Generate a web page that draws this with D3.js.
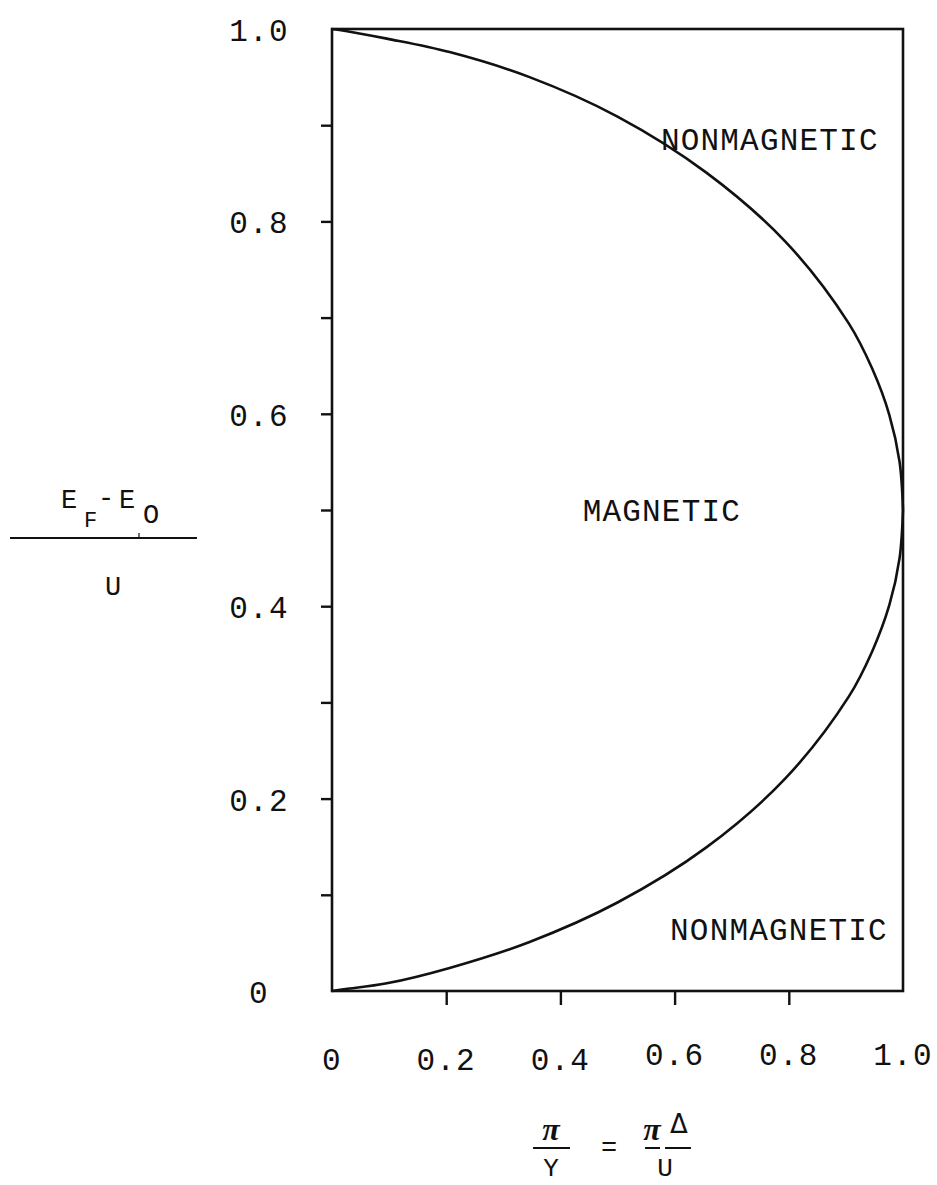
<!DOCTYPE html>
<html>
<head>
<meta charset="utf-8">
<script src="https://cdn.jsdelivr.net/npm/d3@7/dist/d3.min.js"></script>
<style>
  html, body { margin: 0; padding: 0; background: #fff; }
  svg { display: block; }
  .tw { font-family: "Liberation Mono", "DejaVu Sans Mono", monospace; fill: #111; }
</style>
</head>
<body>
<svg id="chart" width="937" height="1185"></svg>
<script>
// Phase boundary between the magnetic and nonmagnetic regions
const xTickValues = [0, 0.2, 0.4, 0.6, 0.8, 1.0];
const xTickLabels = ["0", "0.2", "0.4", "0.6", "0.8", "1.0"];
const yTickValues = [0, 0.2, 0.4, 0.6, 0.8, 1.0];
const yTickLabels = ["0", "0.2", "0.4", "0.6", "0.8", "1.0"];
const yMinorTicks = [0.1, 0.2, 0.3, 0.4, 0.5, 0.6, 0.7, 0.8, 0.9];
const xMinorTicks = [0.2, 0.4, 0.6, 0.8];

// lower branch: (πΔ/U, (E_F - E_0)/U)
const lowerX = [0, 0.024, 0.096, 0.206, 0.346, 0.500, 0.655, 0.794, 0.905, 0.946, 0.976, 0.994, 1.0];
const lowerY = [0, 0.002, 0.008, 0.024, 0.051, 0.092, 0.149, 0.221, 0.306, 0.353, 0.401, 0.450, 0.5];
// upper branch
const upperX = [0, 0.024, 0.096, 0.206, 0.346, 0.500, 0.655, 0.794, 0.905, 0.946, 0.976, 0.994, 1.0];
const upperY = [1.0, 0.998, 0.990, 0.976, 0.950, 0.909, 0.851, 0.779, 0.694, 0.647, 0.599, 0.550, 0.5];

const regionLabels = [
  { text: "NONMAGNETIC", x: 0.576, y: 0.884 },
  { text: "MAGNETIC", x: 0.439, y: 0.498 },
  { text: "NONMAGNETIC", x: 0.592, y: 0.062 }
];

const svg = d3.select("#chart");
const plotLeft = 332, plotRight = 903, plotTop = 29, plotBottom = 991;
const x = d3.scaleLinear().domain([0, 1]).range([plotLeft, plotRight]);
const y = d3.scaleLinear().domain([0, 1]).range([plotBottom, plotTop]);

const FS = 31, LS = 1.2;

// frame
svg.append("rect")
  .attr("x", x(0)).attr("y", y(1))
  .attr("width", x(1) - x(0)).attr("height", y(0) - y(1))
  .attr("fill", "none").attr("stroke", "#111").attr("stroke-width", 2.6);

// y ticks (outside, left)
svg.append("g").attr("transform", `translate(${plotLeft},0)`)
  .call(d3.axisLeft(y).tickValues(yMinorTicks).tickSize(11).tickFormat(""))
  .call(g => g.select(".domain").remove())
  .call(g => g.selectAll("line").attr("stroke", "#111").attr("stroke-width", 2.4));

// x ticks (outside, below)
svg.append("g").attr("transform", `translate(0,${plotBottom})`)
  .call(d3.axisBottom(x).tickValues(xMinorTicks).tickSize(14).tickFormat(""))
  .call(g => g.select(".domain").remove())
  .call(g => g.selectAll("line").attr("stroke", "#111").attr("stroke-width", 2.4));

// y tick labels
svg.append("g").selectAll("text").data(yTickValues).join("text")
  .attr("class", "tw")
  .attr("x", 259)
  .attr("y", d => y(d) + 12)
  .attr("text-anchor", "middle")
  .attr("font-size", FS).attr("letter-spacing", LS)
  .text((d, i) => yTickLabels[i]);

// x tick labels (typewriter baseline drifts slightly)
svg.append("g").selectAll("text").data(xTickValues).join("text")
  .attr("class", "tw")
  .attr("x", d => x(d))
  .attr("y", (d, i) => i < 3 ? 1070 : 1065)
  .attr("text-anchor", "middle")
  .attr("font-size", FS).attr("letter-spacing", LS)
  .text((d, i) => xTickLabels[i]);

// boundary curves
const line = d3.line().x(d => x(d[0])).y(d => y(d[1])).curve(d3.curveCatmullRom.alpha(0.5));
svg.append("path")
  .datum(lowerX.map((v, i) => [v, lowerY[i]]))
  .attr("d", line).attr("fill", "none").attr("stroke", "#111").attr("stroke-width", 2.6);
svg.append("path")
  .datum(upperX.map((v, i) => [v, upperY[i]]))
  .attr("d", line).attr("fill", "none").attr("stroke", "#111").attr("stroke-width", 2.6);

// region labels
svg.append("g").selectAll("text").data(regionLabels).join("text")
  .attr("class", "tw")
  .attr("x", d => x(d.x))
  .attr("y", d => y(d.y) + 9)
  .attr("font-size", FS).attr("letter-spacing", LS)
  .text(d => d.text);

// y axis title: (E_F - E_O) / U
const yt = svg.append("g");
yt.append("text").attr("class", "tw").attr("x", 61).attr("y", 508).attr("font-size", 27).text("E");
yt.append("text").attr("class", "tw").attr("x", 84).attr("y", 527).attr("font-size", 22).text("F");
yt.append("text").attr("class", "tw").attr("x", 98).attr("y", 506).attr("font-size", 27).text("-");
yt.append("text").attr("class", "tw").attr("x", 119).attr("y", 508).attr("font-size", 27).text("E");
yt.append("text").attr("class", "tw").attr("x", 143).attr("y", 523).attr("font-size", 27).text("O");
yt.append("line").attr("x1", 10).attr("x2", 197).attr("y1", 538).attr("y2", 538)
  .attr("stroke", "#111").attr("stroke-width", 2.2);
yt.append("line").attr("x1", 139).attr("x2", 139).attr("y1", 533).attr("y2", 538)
  .attr("stroke", "#111").attr("stroke-width", 1.2);
yt.append("text").attr("class", "tw").attr("x", 113).attr("y", 595).attr("font-size", 27)
  .attr("text-anchor", "middle").text("U");

// x axis title: π / Y = πΔ / U
const xt = svg.append("g");
xt.append("text").attr("x", 551).attr("y", 1140).attr("text-anchor", "middle")
  .attr("font-family", "Liberation Serif").attr("font-weight", "bold").attr("font-style", "italic")
  .attr("font-size", 32).attr("fill", "#111").text("π");
xt.append("line").attr("x1", 533).attr("x2", 570).attr("y1", 1148).attr("y2", 1148)
  .attr("stroke", "#111").attr("stroke-width", 2);
xt.append("text").attr("class", "tw").attr("x", 551).attr("y", 1176).attr("text-anchor", "middle")
  .attr("font-size", 26).text("Y");
xt.append("text").attr("class", "tw").attr("x", 609).attr("y", 1156).attr("text-anchor", "middle")
  .attr("font-size", 27).text("=");
xt.append("text").attr("x", 652).attr("y", 1140).attr("text-anchor", "middle")
  .attr("font-family", "Liberation Serif").attr("font-weight", "bold").attr("font-style", "italic")
  .attr("font-size", 32).attr("fill", "#111").text("π");
xt.append("text").attr("x", 679).attr("y", 1133).attr("text-anchor", "middle")
  .attr("font-family", "DejaVu Sans").attr("font-size", 26).attr("fill", "#111").text("Δ");
xt.append("line").attr("x1", 645).attr("x2", 660).attr("y1", 1148).attr("y2", 1148)
  .attr("stroke", "#111").attr("stroke-width", 2);
xt.append("line").attr("x1", 665).attr("x2", 691).attr("y1", 1148).attr("y2", 1148)
  .attr("stroke", "#111").attr("stroke-width", 2);
xt.append("text").attr("class", "tw").attr("x", 665).attr("y", 1176).attr("text-anchor", "middle")
  .attr("font-size", 26).text("U");
</script>
</body>
</html>
